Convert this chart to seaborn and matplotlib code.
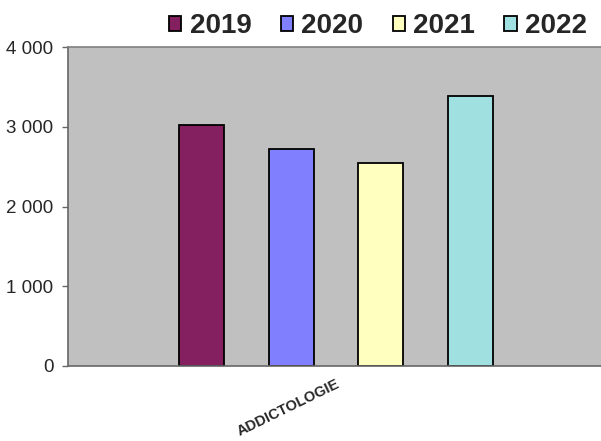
import matplotlib
matplotlib.use("Agg")
import matplotlib.pyplot as plt
import seaborn as sns
import pandas as pd
from matplotlib.ticker import FuncFormatter

categories = ["ADDICTOLOGIE"]
years = ["2019", "2020", "2021", "2022"]
values = [3020, 2715, 2540, 3385]
colors = ["#842060", "#8080FF", "#FFFFC0", "#A0E0E0"]

df = pd.DataFrame({
    "cat": [categories[0]] * len(years),
    "year": years,
    "value": values,
})

sns.set_style("white")
plt.rcParams["font.family"] = ["Liberation Sans", "DejaVu Sans"]

fig = plt.figure(figsize=(6.01, 4.41), dpi=100)
ax = fig.add_axes([68 / 601, 75 / 441, 533 / 601, 319 / 441])

sns.barplot(data=df, x="cat", y="value", hue="year", palette=colors,
            width=0.8, gap=0.5, edgecolor="black", linewidth=1.3, ax=ax,
            saturation=1)

ax.set_facecolor("#C0C0C0")
ax.set_xlim(-0.599, 0.592)
ax.set_ylim(0, 4000)
ax.set_yticks([0, 1000, 2000, 3000, 4000])
ax.yaxis.set_major_formatter(FuncFormatter(lambda v, p: f"{int(v):,}".replace(",", " ")))
ax.tick_params(axis="y", which="major", left=True, length=4.5, width=1, color="#666666",
               labelsize=13.5, pad=6, direction="out")
ax.tick_params(axis="x", length=0, labelsize=10.5, pad=8)
for lbl in ax.get_xticklabels():
    lbl.set_rotation(26)
    lbl.set_ha("right")
    lbl.set_rotation_mode("anchor")
    lbl.set_fontweight("bold")
ax.set_xlabel("")
ax.set_ylabel("")

for s in ["left", "bottom"]:
    ax.spines[s].set_color("#666666")
    ax.spines[s].set_linewidth(1.2)
ax.spines["top"].set_visible(True)
ax.spines["top"].set_color("#808080")
ax.spines["top"].set_linewidth(1.2)
ax.spines["right"].set_visible(False)

handles, labels = ax.get_legend_handles_labels()
if ax.get_legend() is not None:
    ax.get_legend().remove()
leg = fig.legend(handles, labels, loc="center", bbox_to_anchor=(378 / 601, 1 - 26 / 441),
                 ncol=4, frameon=False, prop={"weight": "bold", "size": 20},
                 handlelength=0.45, handleheight=0.45, handletextpad=0.3,
                 columnspacing=1.05, borderaxespad=0)

fig.savefig("out.png", dpi=100)
